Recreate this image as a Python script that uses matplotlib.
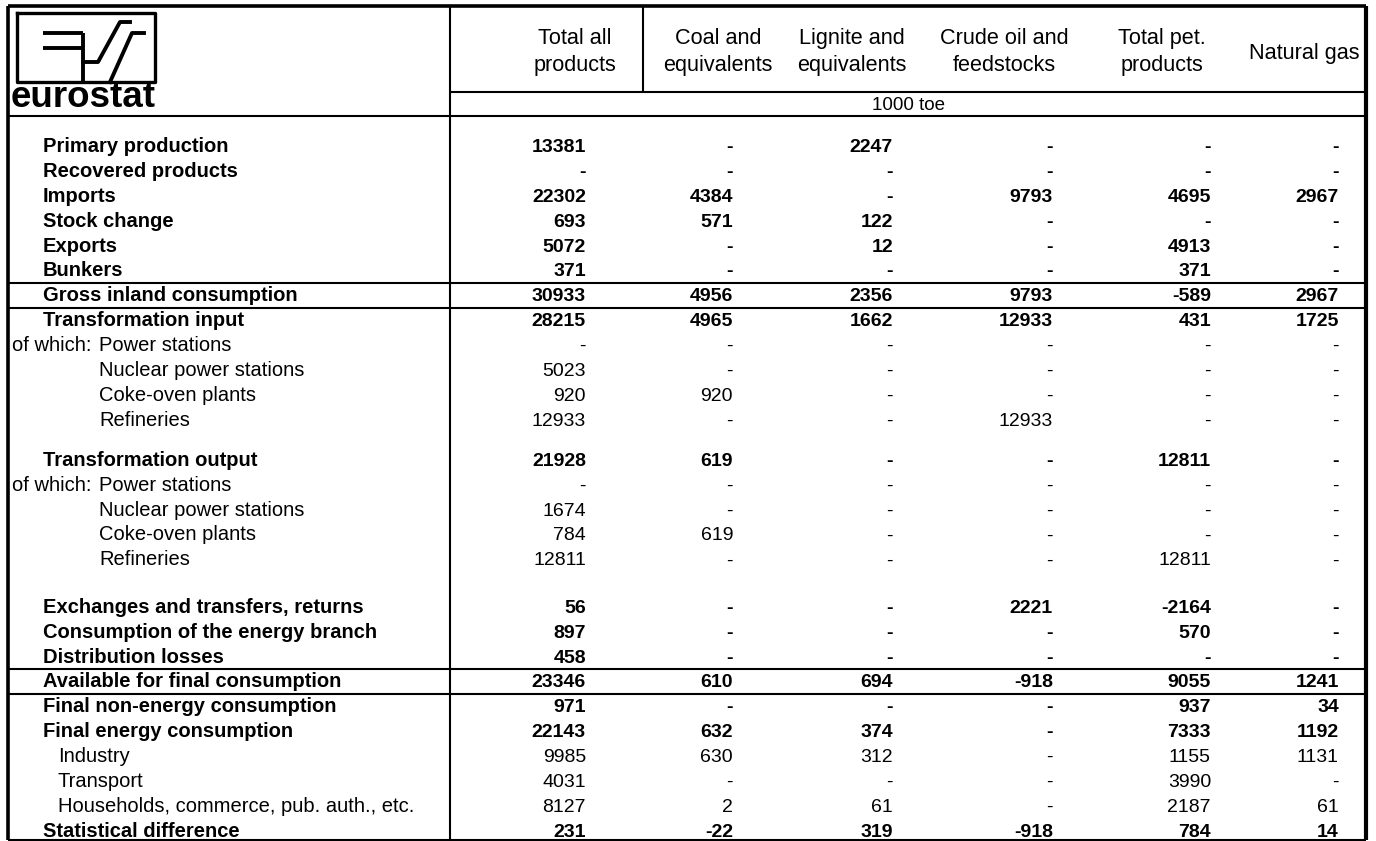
import matplotlib.pyplot as plt

# ---------------- data (1000 toe) ----------------
row_labels = [
    "Primary production", "Recovered products", "Imports", "Stock change",
    "Exports", "Bunkers", "Gross inland consumption", "Transformation input",
    "of which:|Power stations", "Nuclear power stations", "Coke-oven plants",
    "Refineries", "Transformation output", "of which:|Power stations",
    "Nuclear power stations", "Coke-oven plants", "Refineries",
    "Exchanges and transfers, returns", "Consumption of the energy branch",
    "Distribution losses", "Available for final consumption",
    "Final non-energy consumption", "Final energy consumption", "Industry",
    "Transport", "Households, commerce, pub. auth., etc.",
    "Statistical difference",
]
# None = "-"
total_all = [13381, None, 22302, 693, 5072, 371, 30933, 28215, None, 5023, 920,
             12933, 21928, None, 1674, 784, 12811, 56, 897, 458, 23346, 971,
             22143, 9985, 4031, 8127, 231]
coal = [None, None, 4384, 571, None, None, 4956, 4965, None, None, 920, None,
        619, None, None, 619, None, None, None, None, 610, None, 632, 630, None,
        2, -22]
lignite = [2247, None, None, 122, 12, None, 2356, 1662, None, None, None, None,
           None, None, None, None, None, None, None, None, 694, None, 374, 312,
           None, 61, 319]
crude = [None, None, 9793, None, None, None, 9793, 12933, None, None, None,
         12933, None, None, None, None, None, 2221, None, None, -918, None, None,
         None, None, None, -918]
pet_products = [None, None, 4695, None, 4913, 371, -589, 431, None, None, None,
                None, 12811, None, None, None, 12811, -2164, 570, None, 9055, 937,
                7333, 1155, 3990, 2187, 784]
natural_gas = [None, None, 2967, None, None, None, 2967, 1725, None, None, None,
               None, None, None, None, None, None, None, None, None, 1241, 34,
               1192, 1131, None, 61, 14]
col_headers = ["Total all\nproducts", "Coal and\nequivalents",
               "Lignite and\nequivalents", "Crude oil and\nfeedstocks",
               "Total pet.\nproducts", "Natural gas"]
unit_label = "1000 toe"

columns = [total_all, coal, lignite, crude, pet_products, natural_gas]

# ---------------- layout (pixels) ----------------
W, H = 1376, 841
plain_rows = {8, 9, 10, 11, 13, 14, 15, 16, 23, 24, 25}
sub_rows = {9, 10, 11, 14, 15, 16}
minor_rows = {23, 24, 25}
gap_after = {11: 15, 16: 22.5}
num_right = [586, 733, 893, 1053, 1211, 1339]
head_center = [575, 718, 852, 1004, 1162, 1304]

FS_LAB = 14.5
FS_NUM = 14
FS_HEAD = 15.6
plt.rcParams["font.family"] = ["Liberation Sans", "DejaVu Sans"]

fig = plt.figure(figsize=(W / 100, H / 100), dpi=100)
ax = fig.add_axes([0, 0, 1, 1])
ax.set_xlim(0, W)
ax.set_ylim(H, 0)
ax.axis("off")

LW = 1.5
LWB = 2.6

def hline(y, x0, x1, lw=LW):
    ax.plot([x0, x1], [y, y], color="black", lw=lw, solid_capstyle="butt")

def vline(x, y0, y1, lw=LW):
    ax.plot([x, x], [y0, y1], color="black", lw=lw, solid_capstyle="butt")

# frame
L, R, T, B = 8, 1366, 6, 840
hline(T, L, R, LWB)
hline(B, L, R, LW)
vline(L, T, B, LWB)
vline(R, T, B, LWB + 0.4)
vline(450, T, B)
vline(643, T, 92)
hline(92, 450, R)
hline(116, L, R)

# logo
ax.plot([17, 155, 155, 17, 17], [13, 13, 82, 82, 13], color="black", lw=2.4)
ax.plot([43, 83], [33, 33], color="black", lw=2.8, solid_capstyle="butt")
ax.plot([43, 83], [48, 48], color="black", lw=2.8, solid_capstyle="butt")
ax.plot([83, 83], [33, 82], color="black", lw=2.8, solid_capstyle="butt")
ax.plot([83, 98, 120, 130], [62, 62, 22, 22], color="black", lw=2.8)
ax.plot([110, 132, 144], [82, 33, 33], color="black", lw=2.8)
ax.text(11, 107, "eurostat", fontsize=26.5, fontweight="bold", ha="left",
        va="baseline")

# headers
for cx, head in zip(head_center, col_headers):
    parts = head.split("\n")
    if len(parts) == 2:
        ax.text(cx, 44, parts[0], fontsize=FS_HEAD, ha="center", va="baseline")
        ax.text(cx, 71, parts[1], fontsize=FS_HEAD, ha="center", va="baseline")
    else:
        ax.text(cx, 59, parts[0], fontsize=FS_HEAD, ha="center", va="baseline")
ax.text(908, 110, unit_label, fontsize=13.5, ha="center", va="baseline")

# rows
PITCH, Y0 = 24.9, 145
ys = []
y = Y0
for i in range(len(row_labels)):
    ys.append(y)
    y += PITCH + gap_after.get(i, 0)

for i, label in enumerate(row_labels):
    base = ys[i] + 7
    weight = "normal" if i in plain_rows else "bold"
    if label.startswith("of which:"):
        a, b = label.split("|")
        ax.text(12, base, a, fontsize=FS_LAB, ha="left", va="baseline")
        ax.text(99, base, b, fontsize=FS_LAB, ha="left", va="baseline")
    else:
        x = 99 if i in sub_rows else (58 if i in minor_rows else 43)
        ax.text(x, base, label, fontsize=FS_LAB, fontweight=weight, ha="left",
                va="baseline")
    for xr, col in zip(num_right, columns):
        v = col[i]
        s = "-" if v is None else str(v)
        ax.text(xr, base, s, fontsize=FS_NUM, fontweight=weight, ha="right",
                va="baseline")

# separators around the key totals
for i in (6, 20):
    hline(ys[i] - 11.5, L, R)
    hline(ys[i] + 13.5, L, R)

fig.savefig("out.png", dpi=100)
